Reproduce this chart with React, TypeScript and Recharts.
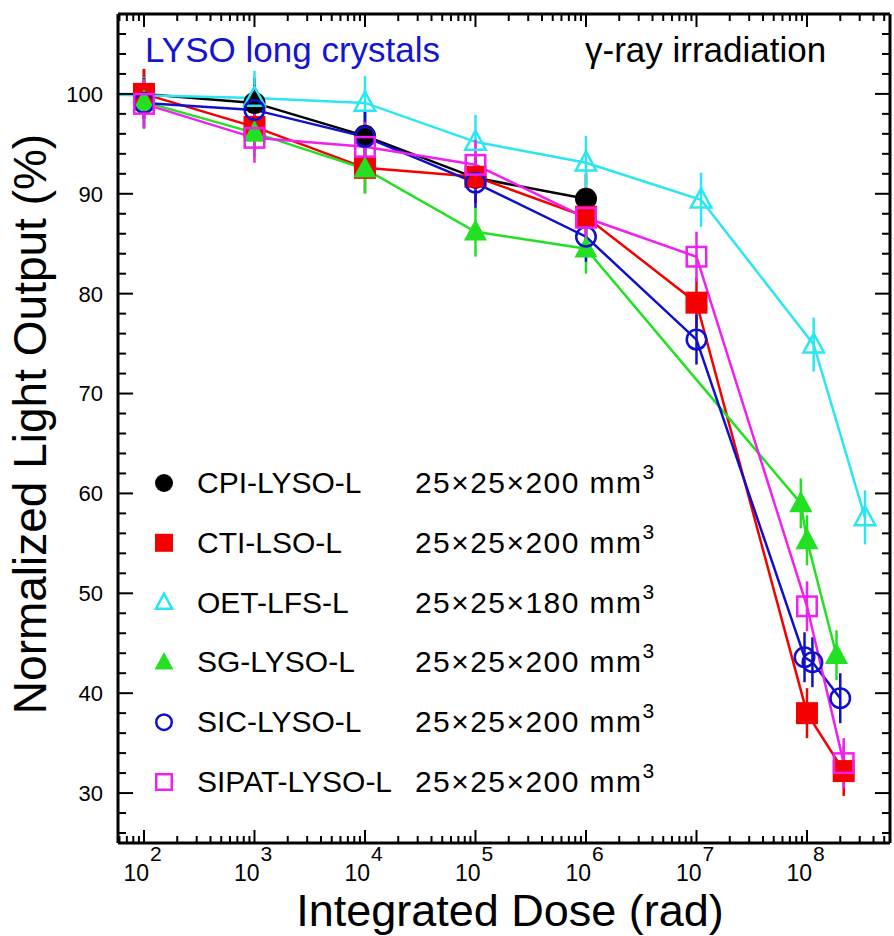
import React from "react";
import { ComposedChart, Line, XAxis, YAxis, ErrorBar, Customized } from "recharts";

// integrated dose (rad) vs normalized light output (%) per crystal
const cpiDose = [1e2, 1e3, 1e4, 1e5, 1e6];
const cpiLO = [100, 99.1, 95.8, 91.6, 89.5];

const ctiDose = [1e2, 1e3, 1e4, 1e5, 1e6, 1e7, 1e8, 2.15e8];
const ctiLO = [100, 96.7, 92.6, 91.7, 87.7, 79.1, 38.0, 32.2];

// first OET point sits left of the plotted range (line enters from the frame)
const oetDose = [30, 1e3, 1e4, 1e5, 1e6, 1.1e7, 1.15e8, 3.35e8];
const oetLO = [100, 99.6, 99.1, 95.2, 93.1, 89.4, 74.9, 57.6];

const sgDose = [1e2, 1e3, 1e4, 1e5, 1e6, 8.8e7, 1.0e8, 1.85e8];
const sgLO = [99.2, 96.1, 92.5, 86.2, 84.5, 59.0, 55.3, 43.8];

const sicDose = [1e2, 1e3, 1e4, 1e5, 1e6, 1e7, 9.5e7, 1.12e8, 2.0e8];
const sicLO = [99.1, 98.4, 95.7, 91.1, 85.7, 75.4, 43.6, 43.1, 39.5];

const sipatDose = [1e2, 1e3, 1e4, 1e5, 1e6, 1e7, 1e8, 2.15e8];
const sipatLO = [99.0, 95.6, 94.7, 92.9, 87.6, 83.7, 48.7, 33.0];

const xMajorTicks = [1e2, 1e3, 1e4, 1e5, 1e6, 1e7, 1e8];
const yMajorTicks = [30, 40, 50, 60, 70, 80, 90, 100];

const X_MIN = 58.2;
const X_MAX = 5.64e8;
const Y_MIN = 25;
const Y_MAX = 108;

const FONT = "'Liberation Sans', Arial, Helvetica, sans-serif";

type Shape = "circle" | "square" | "triangle";

interface SeriesDef {
  name: string;
  dims: string;
  color: string;
  shape: Shape;
  filled: boolean;
  err: number;
  dose: number[];
  lo: number[];
}

const series: SeriesDef[] = [
  { name: "CPI-LYSO-L", dims: "25×25×200", color: "#000000", shape: "circle", filled: true, err: 2.5, dose: cpiDose, lo: cpiLO },
  { name: "CTI-LSO-L", dims: "25×25×200", color: "#f50000", shape: "square", filled: true, err: 2.5, dose: ctiDose, lo: ctiLO },
  { name: "OET-LFS-L", dims: "25×25×180", color: "#2ae6f0", shape: "triangle", filled: false, err: 2.7, dose: oetDose, lo: oetLO },
  { name: "SG-LYSO-L", dims: "25×25×200", color: "#22e022", shape: "triangle", filled: true, err: 2.5, dose: sgDose, lo: sgLO },
  { name: "SIC-LYSO-L", dims: "25×25×200", color: "#1010cc", shape: "circle", filled: false, err: 2.5, dose: sicDose, lo: sicLO },
  { name: "SIPAT-LYSO-L", dims: "25×25×200", color: "#f020f0", shape: "square", filled: false, err: 2.5, dose: sipatDose, lo: sipatLO },
];

const xTicks: number[] = [];
for (let k = 1; k <= 8; k++) {
  for (let m = 1; m <= 9; m++) {
    const v = m * Math.pow(10, k);
    if (v >= X_MIN && v <= X_MAX) xTicks.push(v);
  }
}
const yTicks: number[] = [];
for (let v = 26; v <= 106; v += 2) yTicks.push(v);

const isXMajor = (v: number) => xMajorTicks.some((t) => Math.abs(t - v) / t < 1e-6);
const isYMajor = (v: number) => yMajorTicks.includes(v);

function Marker({ cx, cy, shape, color, filled, size }: { cx: number; cy: number; shape: Shape; color: string; filled: boolean; size: number }) {
  const h = size / 2;
  const sw = 2.5;
  const fill = filled ? color : "none";
  const stroke = filled ? "none" : color;
  if (shape === "circle") {
    return <circle cx={cx} cy={cy} r={filled ? h : h - sw / 2} fill={fill} stroke={stroke} strokeWidth={sw} />;
  }
  if (shape === "square") {
    const s = filled ? h : h - sw / 2;
    return <rect x={cx - s} y={cy - s} width={2 * s} height={2 * s} fill={fill} stroke={stroke} strokeWidth={sw} />;
  }
  const t = filled ? h : h - sw / 2;
  const pts = `${cx},${cy - t * 1.15} ${cx - t * 1.05},${cy + t * 0.8} ${cx + t * 1.05},${cy + t * 0.8}`;
  return <polygon points={pts} fill={fill} stroke={stroke} strokeWidth={sw} strokeLinejoin="miter" />;
}

const bottomTick = (props: any) => {
  const { x, y, payload } = props;
  const v = payload.value;
  const major = isXMajor(v);
  const exp = Math.round(Math.log10(v));
  return (
    <g>
      <line x1={x} x2={x} y1={y} y2={y - (major ? 13 : 7)} stroke="#000" strokeWidth={2} />
      {major && (
        <text fontFamily={FONT} fill="#000">
          <tspan x={x + 5} y={y + 38} fontSize={23} textAnchor="end">10</tspan>
          <tspan x={x + 6} y={y + 18} fontSize={21} textAnchor="start">{exp}</tspan>
        </text>
      )}
    </g>
  );
};

const topTick = (props: any) => {
  const { x, y, payload } = props;
  const major = isXMajor(payload.value);
  return <line x1={x} x2={x} y1={y} y2={y + (major ? 13 : 7)} stroke="#000" strokeWidth={2} />;
};

const leftTick = (props: any) => {
  const { x, y, payload } = props;
  const v = payload.value;
  const major = isYMajor(v);
  return (
    <g>
      <line x1={x} x2={x + (major ? 15 : 8)} y1={y} y2={y} stroke="#000" strokeWidth={2} />
      {major && (
        <text x={x - 15} y={y} dy="0.36em" textAnchor="end" fontFamily={FONT} fontSize={22} fill="#000">
          {v}
        </text>
      )}
    </g>
  );
};

const rightTick = (props: any) => {
  const { x, y, payload } = props;
  const major = isYMajor(payload.value);
  return <line x1={x} x2={x - (major ? 15 : 8)} y1={y} y2={y} stroke="#000" strokeWidth={2} />;
};

const LEG_X = 164;
const LEG_Y0 = 483;
const LEG_DY = 59.8;

const Overlay = () => (
  <g fontFamily={FONT}>
    <text x={145} y={62} fontSize={35} fill="#1414d2">LYSO long crystals</text>
    <text x={585} y={62} fontSize={35} fill="#000">γ-ray irradiation</text>
    {series.map((s, i) => {
      const y = LEG_Y0 + i * LEG_DY;
      return (
        <g key={s.name}>
          <Marker cx={LEG_X} cy={y} shape={s.shape} color={s.color} filled={s.filled} size={18} />
          <text x={197} y={y + 10} fontSize={30} fill="#000">{s.name}</text>
          <text x={415} y={y + 10} fontSize={30} fill="#000">
            <tspan textLength={226} lengthAdjust="spacing">{s.dims} mm</tspan>
            <tspan dy={-14} fontSize={21}>3</tspan>
          </text>
        </g>
      );
    })}
    <text x={510} y={926} fontSize={45} textAnchor="middle" fill="#000">Integrated Dose (rad)</text>
    <text transform="translate(30,424) rotate(-90)" fontSize={46} textAnchor="middle" dominantBaseline="central" fill="#000">
      Normalized Light Output (%)
    </text>
  </g>
);

export default function App() {
  const frame = { stroke: "#000", strokeWidth: 3 };
  return (
    <div style={{ position: "absolute", left: 0, top: 0, width: 894, height: 936, background: "#fff" }}>
      <ComposedChart width={894} height={936} margin={{ top: 13, right: 3, bottom: 0, left: 0 }}>
        <XAxis
          xAxisId="b"
          dataKey="dose"
          type="number"
          scale="log"
          domain={[X_MIN, X_MAX]}
          allowDataOverflow
          ticks={xTicks}
          interval={0}
          tickSize={0}
          tickMargin={0}
          tickLine={false}
          tick={bottomTick}
          axisLine={frame}
          height={93}
        />
        <XAxis
          xAxisId="t"
          orientation="top"
          dataKey="dose"
          type="number"
          scale="log"
          domain={[X_MIN, X_MAX]}
          allowDataOverflow
          ticks={xTicks}
          interval={0}
          tickSize={0}
          tickMargin={0}
          tickLine={false}
          tick={topTick}
          axisLine={frame}
          height={1}
        />
        <YAxis
          yAxisId="l"
          type="number"
          domain={[Y_MIN, Y_MAX]}
          allowDataOverflow
          ticks={yTicks}
          interval={0}
          tickSize={0}
          tickMargin={0}
          tickLine={false}
          tick={leftTick}
          axisLine={frame}
          width={118}
        />
        <YAxis
          yAxisId="r"
          orientation="right"
          type="number"
          domain={[Y_MIN, Y_MAX]}
          allowDataOverflow
          ticks={yTicks}
          interval={0}
          tickSize={0}
          tickMargin={0}
          tickLine={false}
          tick={rightTick}
          axisLine={frame}
          width={1}
        />
        {/* invisible series so the top/right frame axes get drawn */}
        <Line
          xAxisId="t"
          yAxisId="r"
          data={cpiDose.map((d, i) => ({ dose: d, lo: cpiLO[i] }))}
          dataKey="lo"
          stroke="none"
          dot={false}
          activeDot={false}
          legendType="none"
          isAnimationActive={false}
        />
        {series.map((s) => {
          const data = s.dose.map((d, i) => ({ dose: d, lo: s.lo[i], err: d < X_MIN ? 0 : s.err }));
          return (
            <Line
              key={s.name}
              xAxisId="b"
              yAxisId="l"
              data={data}
              dataKey="lo"
              stroke={s.color}
              strokeWidth={2.5}
              isAnimationActive={false}
              activeDot={false}
              legendType="none"
              dot={(p: any) =>
                p.payload.dose < X_MIN ? (
                  <g key={`${s.name}-${p.index}`} />
                ) : (
                  <Marker key={`${s.name}-${p.index}`} cx={p.cx} cy={p.cy} shape={s.shape} color={s.color} filled={s.filled} size={22} />
                )
              }
            >
              <ErrorBar dataKey="err" direction="y" width={0} stroke={s.color} strokeWidth={2.5} isAnimationActive={false} />
            </Line>
          );
        })}
        <Customized component={Overlay} />
      </ComposedChart>
    </div>
  );
}
